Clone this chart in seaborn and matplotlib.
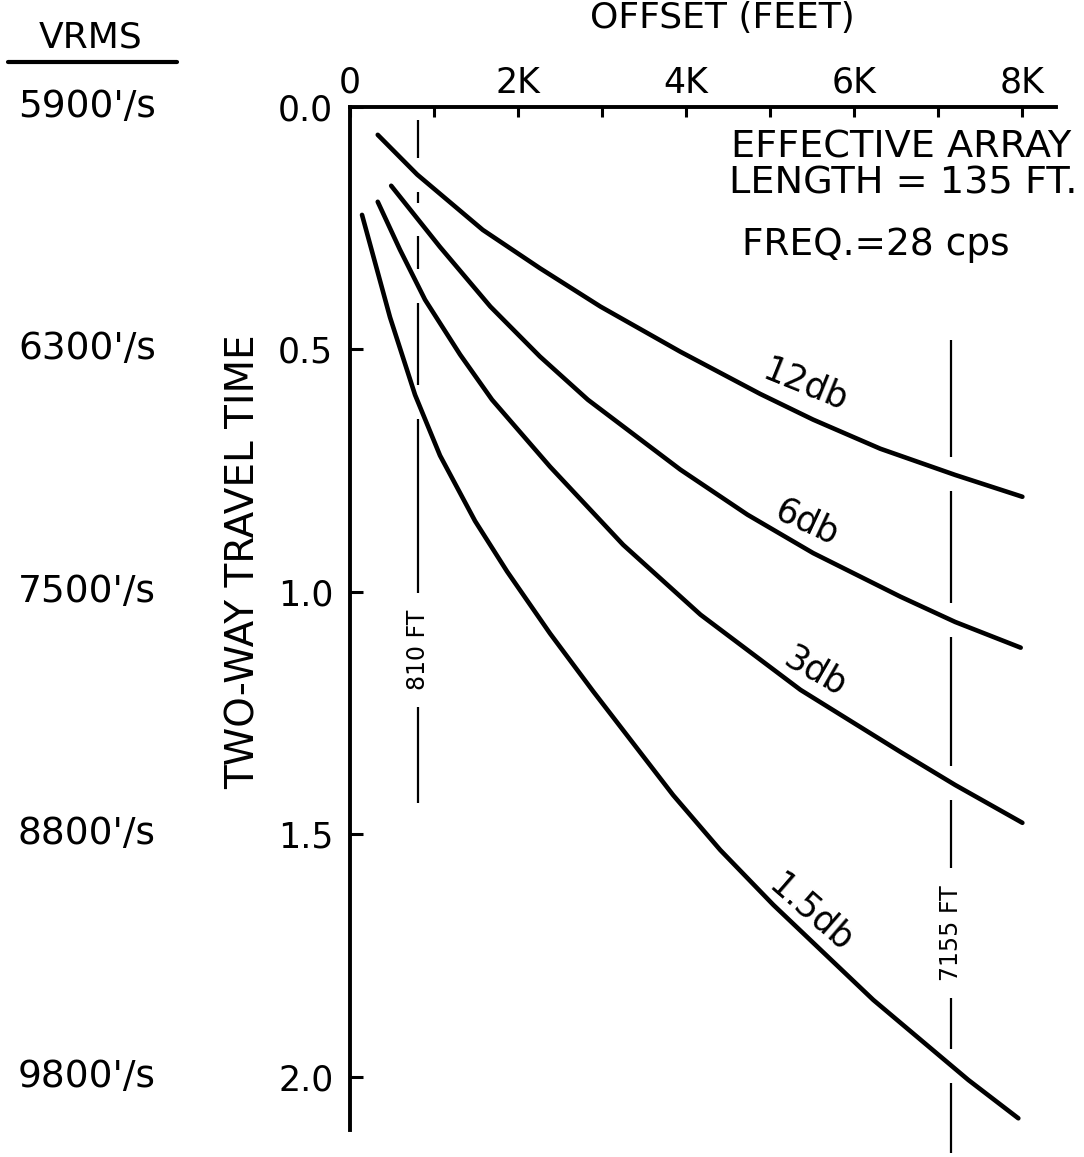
import numpy as np
import pandas as pd
import matplotlib
matplotlib.use("Agg")
import matplotlib.pyplot as plt
import matplotlib.transforms as mtransforms
from matplotlib.lines import Line2D
import seaborn as sns

# Data
curve_names = ["12db", "6db", "3db", "1.5db"]

offset_12db = [330, 800, 1580, 2260, 2980, 3930, 4880, 5510, 6310, 7200, 8000]
time_12db = [0.058, 0.140, 0.254, 0.333, 0.412, 0.505, 0.592, 0.645, 0.705, 0.759, 0.804]

offset_6db = [490, 1070, 1670, 2260, 2830, 3930, 4730, 5510, 6550, 7200, 7980]
time_6db = [0.163, 0.289, 0.412, 0.515, 0.604, 0.748, 0.841, 0.920, 1.010, 1.062, 1.115]

offset_3db = [330, 595, 893, 1310, 1690, 2380, 3250, 4170, 5360, 6550, 7200, 8000]
time_3db = [0.196, 0.295, 0.398, 0.511, 0.604, 0.742, 0.903, 1.047, 1.202, 1.330, 1.398, 1.476]

offset_15db = [143, 476, 774, 1071, 1488, 1869, 2381, 2893, 3845, 4405, 5036, 6226, 7357, 7952]
time_15db = [0.223, 0.434, 0.594, 0.719, 0.854, 0.958, 1.086, 1.205, 1.419, 1.532, 1.645, 1.841, 2.006, 2.085]

vrms_times = [0.0, 0.5, 1.0, 1.5, 2.0]
vrms_labels = ["5900'/s", "6300'/s", "7500'/s", "8800'/s", "9800'/s"]

x_ticks = [0, 2000, 4000, 6000, 8000]
x_ticklabels = ["0", "2K", "4K", "6K", "8K"]
x_minor = [1000, 3000, 5000, 7000]
y_ticks = [0.0, 0.5, 1.0, 1.5, 2.0]
y_ticklabels = ["0.0", "0.5", "1.0", "1.5", "2.0"]

line_offsets = [810, 7155]
line_labels = ["810 FT", "7155 FT"]

offsets = [offset_12db, offset_6db, offset_3db, offset_15db]
times = [time_12db, time_6db, time_3db, time_15db]

df = pd.concat(
    [pd.DataFrame({"offset": o, "time": t, "curve": n}) for o, t, n in zip(offsets, times, curve_names)],
    ignore_index=True,
)

sns.set_theme(style="white")
plt.rcParams["font.family"] = ["DejaVu Sans"]
plt.rcParams["text.color"] = "black"
plt.rcParams["axes.labelcolor"] = "black"
plt.rcParams["xtick.color"] = "black"
plt.rcParams["ytick.color"] = "black"

fig = plt.figure(figsize=(10.84, 11.57), dpi=100)
ax = fig.add_axes([350 / 1084, 0.002, 706 / 1084, 0.9058])

sns.lineplot(data=df, x="offset", y="time", hue="curve", palette=["black"] * 4,
             estimator=None, sort=False, legend=False, linewidth=3.3,
             solid_capstyle="round", solid_joinstyle="round", ax=ax)

ax.set_xlim(0, 8400)
ax.set_ylim(2.16, 0)

# spines
for side in ["right", "bottom"]:
    ax.spines[side].set_visible(False)
for side in ["top", "left"]:
    ax.spines[side].set_visible(True)
    ax.spines[side].set_color("black")
    ax.spines[side].set_linewidth(2.8)
ax.spines["left"].set_bounds(0, 2.11)

# ticks
ax.xaxis.tick_top()
ax.set_xticks(x_ticks)
ax.set_xticklabels(x_ticklabels)
ax.set_xticks(x_minor, minor=True)
ax.set_yticks(y_ticks)
ax.set_yticklabels(y_ticklabels)
ax.tick_params(axis="x", which="both", direction="in", length=7, width=2.2,
               top=True, bottom=False, pad=5, labelsize=25)
ax.tick_params(axis="y", which="both", direction="in", length=9, width=2.2,
               left=True, pad=12, labelsize=25)

ax.set_xlabel("OFFSET (FEET)", fontsize=26)
ax.xaxis.set_label_position("top")
ax.xaxis.set_label_coords((722 - 350) / 706, (1157 - 18 - 2.4) / 1048)
ax.xaxis.label.set_va("center")

ax.set_ylabel("TWO-WAY TRAVEL TIME", fontsize=28)
ax.yaxis.set_label_coords((244 - 350) / 706, (1157 - 562 - 2.4) / 1048)
ax.yaxis.label.set_va("center")

# vertical reference lines, broken where curves cross and around the label
spans = [(0.027, 1.435), (0.48, 2.157)]
label_t = [1.12, 1.703]
label_half = [0.117, 0.134]
for x0, lab, (t0, t1), tl, lh in zip(line_offsets, line_labels, spans, label_t, label_half):
    gaps = [(tl - lh, tl + lh)]
    for o, t in zip(offsets, times):
        if o[0] <= x0 <= o[-1]:
            tc = np.interp(x0, o, t)
            gaps.append((tc - 0.035, tc + 0.035))
    gaps.sort()
    start = t0
    for g0, g1 in gaps:
        if g1 < t0 or g0 > t1:
            continue
        if g0 > start:
            ax.vlines(x0, start, g0, color="black", lw=1.6, clip_on=False)
        start = max(start, g1)
    if start < t1:
        ax.vlines(x0, start, t1, color="black", lw=1.6, clip_on=False)
    ax.text(x0, tl, lab, rotation=90, ha="center", va="center", fontsize=17)

# curve labels
label_pos = [(5417, 0.573, -22), (5440, 0.858, -25), (5536, 1.165, -30), (5476, 1.662, -41)]
for name, (lx, ly, rot) in zip(curve_names, label_pos):
    ax.text(lx, ly, name, rotation=rot, rotation_mode="anchor",
            ha="center", va="center", fontsize=25)

# annotations
fig.text(901 / 1084, 1 - 148 / 1157, "EFFECTIVE ARRAY", ha="center", va="center", fontsize=27.5)
fig.text(903 / 1084, 1 - 183 / 1157, "LENGTH = 135 FT.", ha="center", va="center", fontsize=27.5)
fig.text(876 / 1084, 1 - 245 / 1157, "FREQ.=28 cps", ha="center", va="center", fontsize=27)

# VRMS column
fig.text(91 / 1084, 1 - 38 / 1157, "VRMS", ha="center", va="center", fontsize=26)
fig.add_artist(Line2D([8 / 1084, 177 / 1084], [1 - 62 / 1157, 1 - 62 / 1157],
                      color="black", lw=3, solid_capstyle="round"))
trans = mtransforms.blended_transform_factory(fig.transFigure, ax.transData)
for t, lab in zip(vrms_times, vrms_labels):
    ax.text(18 / 1084, t, lab, transform=trans, ha="left", va="center",
            fontsize=27, clip_on=False)

fig.savefig("out.png", dpi=100)
